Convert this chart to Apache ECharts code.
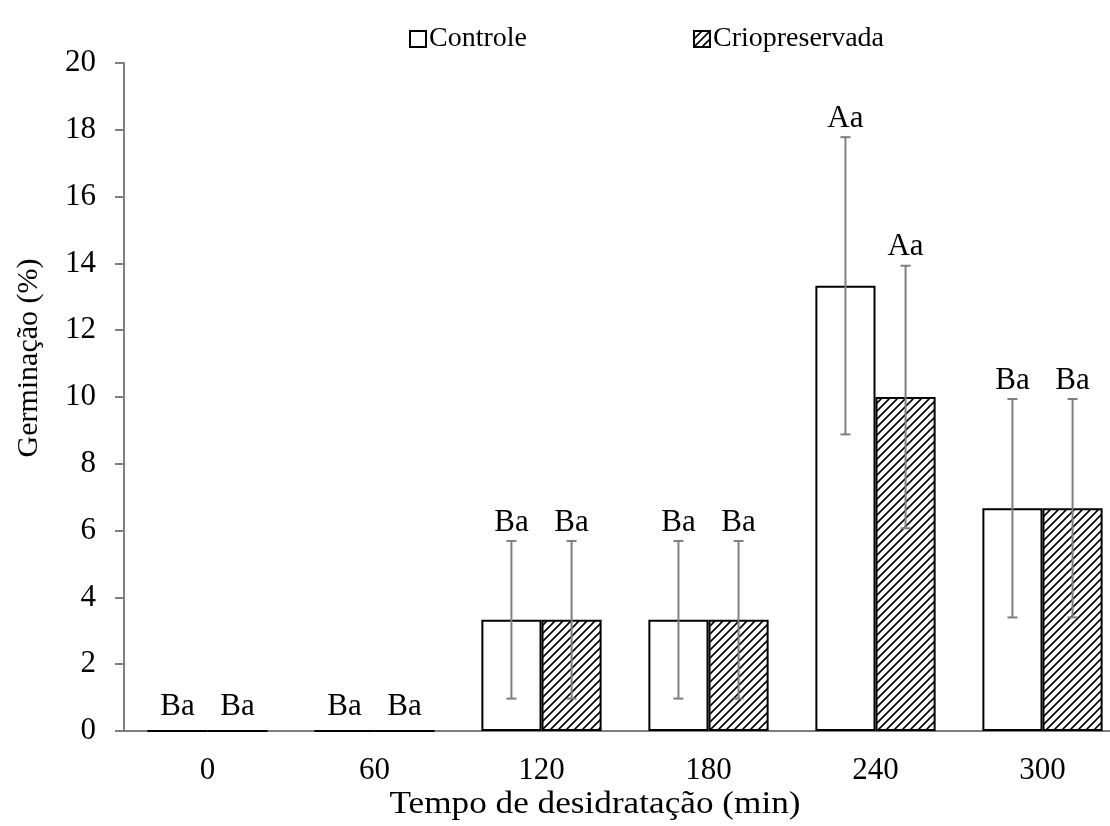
<!DOCTYPE html>
<html>
<head>
<meta charset="utf-8">
<script src="https://cdn.jsdelivr.net/npm/echarts@6/dist/echarts.min.js"></script>
<style>html,body{margin:0;padding:0;background:#fff}#c{width:1110px;height:826px}</style>
</head>
<body>
<div id="c"></div>
<script>
const categories = ['0', '60', '120', '180', '240', '300'];
const controle = [0, 0, 3.33, 3.33, 13.33, 6.67];
const crio = [0, 0, 3.33, 3.33, 10, 6.67];
const controleErr = [0, 0, 2.36, 2.36, 4.45, 3.27];
const crioErr = [0, 0, 2.36, 2.36, 3.93, 3.27];
const controleLetters = ['Ba', 'Ba', 'Ba', 'Ba', 'Aa', 'Ba'];
const crioLetters = ['Ba', 'Ba', 'Ba', 'Ba', 'Aa', 'Ba'];
const yTicks = [0, 2, 4, 6, 8, 10, 12, 14, 16, 18, 20];

const FONT = '"Liberation Serif", "Times New Roman", serif';
const GAP = 0.28;

function makeHatch() {
  const c = document.createElement('canvas');
  c.width = 8; c.height = 8;
  const g = c.getContext('2d');
  g.fillStyle = '#fff'; g.fillRect(0, 0, 8, 8);
  g.strokeStyle = '#000'; g.lineWidth = 1.6;
  g.beginPath();
  g.moveTo(-2, 10); g.lineTo(10, -2);
  g.moveTo(-6, 6); g.lineTo(6, -6);
  g.moveTo(2, 14); g.lineTo(14, 2);
  g.stroke();
  return c;
}
const hatch = { image: makeHatch(), repeat: 'repeat' };

function errSeries(name, vals, errs, letters, side) {
  return {
    type: 'custom',
    name: name + ' err',
    z: 5,
    silent: true,
    data: vals.map((v, i) => [i, v, errs[i]]),
    renderItem: function (params, api) {
      const i = api.value(0), v = api.value(1), e = api.value(2);
      const letter = letters[params.dataIndex];
      const band = api.size([1, 0])[0];
      const bw = band * (1 - GAP) / 2;
      const center = api.coord([i, v]);
      const x = center[0] + side * bw / 2;
      const children = [];
      let bottomY;
      if (e > 0) {
        const hi = api.coord([i, v + e])[1];
        const lo = api.coord([i, v - e])[1];
        const st = { stroke: '#7f7f7f', lineWidth: 2 };
        children.push({ type: 'line', shape: { x1: x, y1: hi, x2: x, y2: lo }, style: st });
        children.push({ type: 'line', shape: { x1: x - 5, y1: hi, x2: x + 5, y2: hi }, style: st });
        children.push({ type: 'line', shape: { x1: x - 5, y1: lo, x2: x + 5, y2: lo }, style: st });
        bottomY = hi - 3;
      } else {
        bottomY = api.coord([i, 0])[1] - 9;
      }
      children.push({
        type: 'text',
        style: { x: x, y: bottomY, text: letter, align: 'center', verticalAlign: 'bottom',
                 font: '31px ' + FONT, fill: '#000' }
      });
      return { type: 'group', children: children };
    }
  };
}

const chart = echarts.init(document.getElementById('c'));
chart.setOption({
  animation: false,
  backgroundColor: '#fff',
  grid: { left: 124, right: -16, top: 63, bottom: 95, outerBoundsMode: 'none', containLabel: false },
  legend: {
    left: 404, top: 20,
    itemWidth: 16, itemHeight: 16, itemGap: 166,
    data: [
      { name: 'Controle', icon: 'rect', itemStyle: { color: '#fff', borderColor: '#000', borderWidth: 2 } },
      { name: 'Criopreservada', icon: 'rect', itemStyle: { color: hatch, borderColor: '#000', borderWidth: 2 } }
    ],
    textStyle: { fontFamily: FONT, fontSize: 28, color: '#000', padding: [0, 0, 0, -2] }
  },
  xAxis: {
    type: 'category',
    data: categories,
    axisLine: { lineStyle: { color: '#7f7f7f', width: 2 } },
    axisTick: { show: false },
    axisLabel: { fontFamily: FONT, fontSize: 31, color: '#000', margin: 24 }
  },
  yAxis: {
    type: 'value',
    min: 0, max: 20, interval: 2,
    splitLine: { show: false },
    axisLine: { show: true, lineStyle: { color: '#7f7f7f', width: 2 } },
    axisTick: { show: true, length: 9, lineStyle: { color: '#7f7f7f', width: 2 } },
    axisLabel: { fontFamily: FONT, fontSize: 31, color: '#000', margin: 28,
      formatter: v => yTicks.includes(v) ? String(v) : '' }
  },
  series: [
    { name: 'Controle', type: 'bar', data: controle, barGap: '0%', barCategoryGap: (GAP * 100) + '%',
      itemStyle: { color: '#fff', borderColor: '#000', borderWidth: 2 } },
    { name: 'Criopreservada', type: 'bar', data: crio, barGap: '0%', barCategoryGap: (GAP * 100) + '%',
      itemStyle: { color: hatch, borderColor: '#000', borderWidth: 2 } },
    errSeries('Controle', controle, controleErr, controleLetters, -1),
    errSeries('Criopreservada', crio, crioErr, crioLetters, 1)
  ],
  graphic: [
    { type: 'text', x: 29, y: 358, rotation: Math.PI / 2,
      style: { text: 'Germinação (%)', font: '30px ' + FONT, fill: '#000', align: 'center', verticalAlign: 'middle' } },
    { type: 'text', x: 595, y: 805, scaleX: 1.1,
      style: { text: 'Tempo de desidratação (min)', font: '32px ' + FONT, fill: '#000', align: 'center', verticalAlign: 'middle' } }
  ]
});
</script>
</body>
</html>
